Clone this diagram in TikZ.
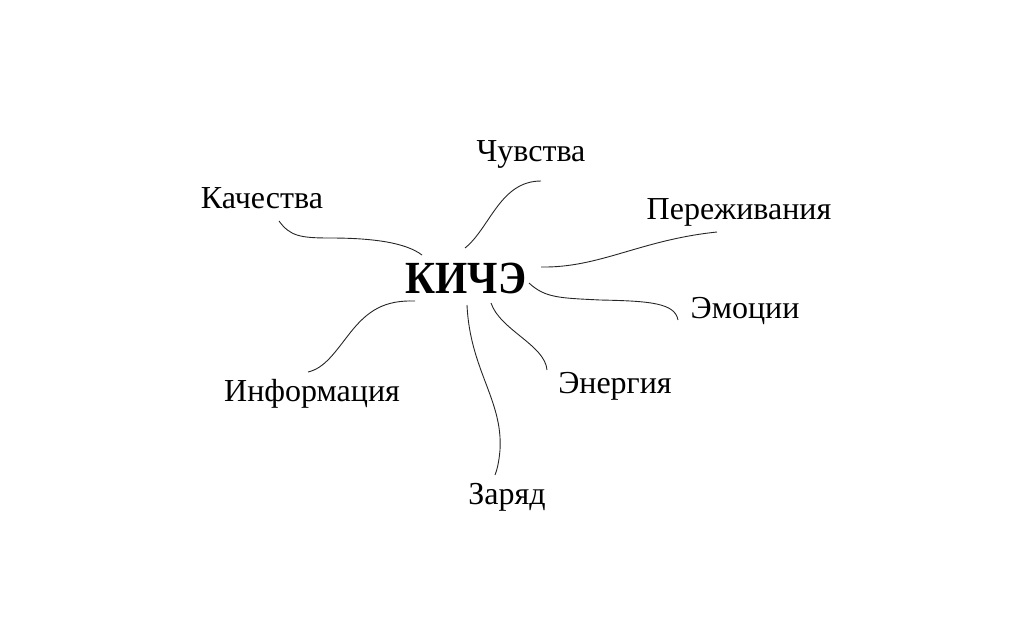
\documentclass[tikz,border=0pt]{standalone}
\usepackage{fontspec}
\setmainfont{Liberation Serif}
\begin{document}
\begin{tikzpicture}[x=1pt,y=-1pt,
  lbl/.style={inner sep=0pt,font=\fontsize{32}{36}\selectfont},
  center/.style={inner sep=0pt,font=\fontsize{46}{50}\selectfont\bfseries},
  link/.style={line width=0.9pt,black!85}]
\useasboundingbox (0,0) rectangle (1024,635);
\node[center] (k) at (466,278) {\scalebox{0.9}[1]{КИЧЭ}};
\node[lbl] (chu) at (531,154) {Чувства};
\node[lbl] (kach) at (262,198) {Качества};
\node[lbl] (per) at (739,212) {Переживания};
\node[lbl] (emo) at (745,311) {Эмоции};
\node[lbl] (ene) at (615,386) {Энергия};
\node[lbl] (inf) at (312,394) {Информация};
\node[lbl] (zar) at (507,497) {Заряд};
% connector ends
\coordinate (a1) at (465,248); \coordinate (b1) at (541,181);
\coordinate (a2) at (422,255); \coordinate (m2) at (330,238); \coordinate (b2) at (279,221);
\coordinate (a3) at (415,301); \coordinate (m3) at (350,333); \coordinate (b3) at (308,372);
\coordinate (a4) at (541,267); \coordinate (b4) at (717,232);
\coordinate (a5) at (529,283); \coordinate (m5) at (600,300); \coordinate (b5) at (678,320);
\coordinate (a6) at (491,303); \coordinate (b6) at (547,370);
\coordinate (a7) at (467,305); \coordinate (m7) at (500,450); \coordinate (b7) at (495,475);
\draw[link] (a1) .. controls (490,228) and (500,181) .. (b1);
\draw[link] (a2) .. controls (405,242) and (370,238) .. (m2) .. controls (300,238) and (290,236) .. (b2);
\draw[link] (a3) .. controls (385,300) and (368,310) .. (m3) .. controls (335,352) and (325,368) .. (b3);
\draw[link] (a4) .. controls (600,268) and (640,240) .. (b4);
\draw[link] (a5) .. controls (545,298) and (560,298) .. (m5) .. controls (650,301) and (675,303) .. (b5);
\draw[link] (a6) .. controls (500,330) and (545,345) .. (b6);
\draw[link] (a7) .. controls (470,370) and (503,400) .. (m7) .. controls (499,462) and (497,470) .. (b7);
\end{tikzpicture}
\end{document}
